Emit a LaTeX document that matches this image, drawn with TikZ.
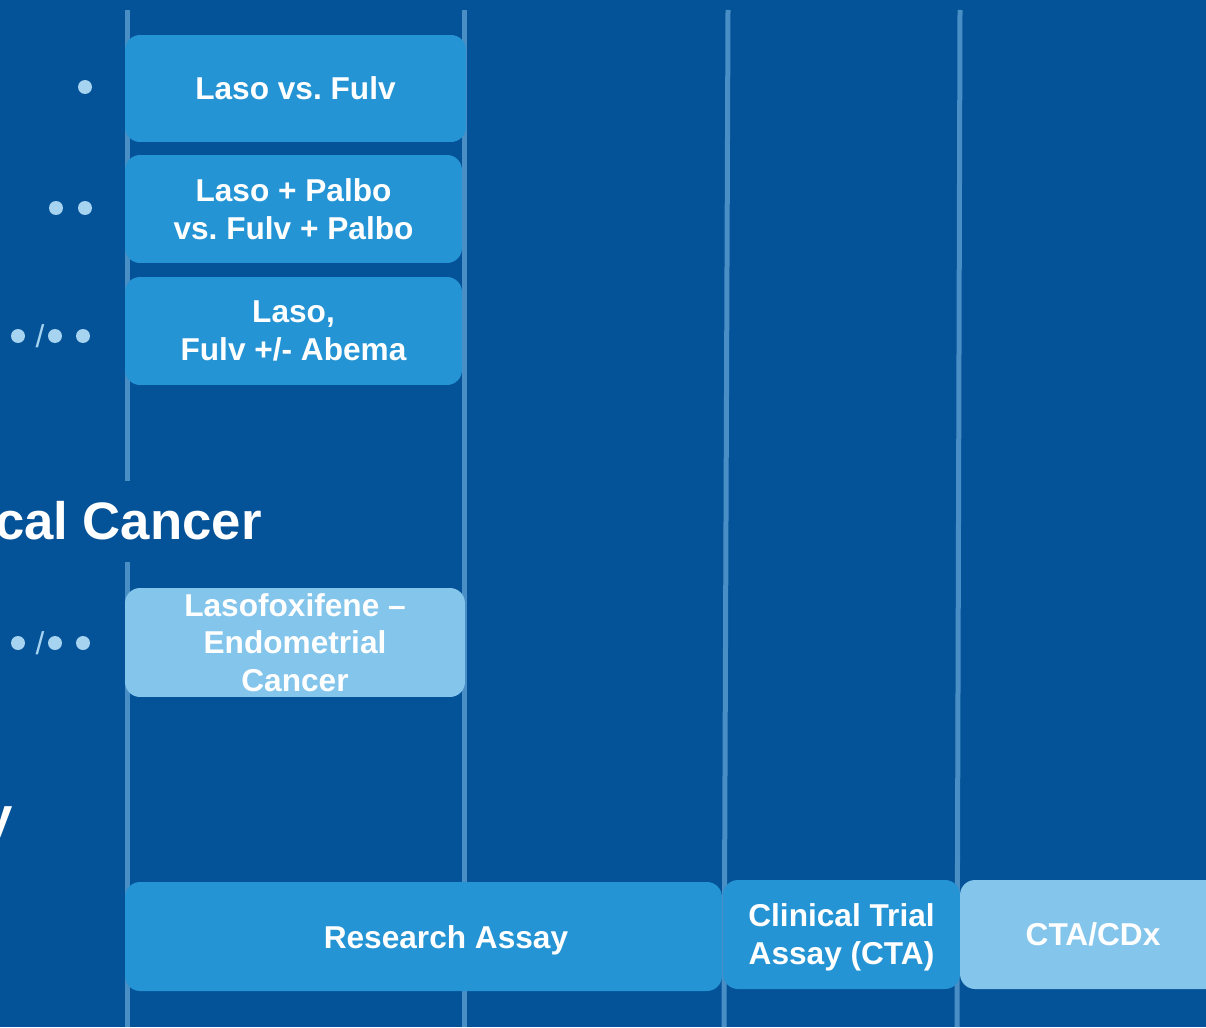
\documentclass[tikz,border=0pt]{standalone}
\usepackage{fontspec}
\setmainfont{Liberation Sans}
\frenchspacing
\definecolor{bgblue}{HTML}{045297}
\definecolor{boxblue}{HTML}{2494D4}
\definecolor{paleblue}{HTML}{84C5EB}
\definecolor{lineblue}{HTML}{4A8EC6}
\definecolor{dotblue}{HTML}{A6D3F0}

\begin{document}
\begin{tikzpicture}[x=0.02cm,y=-0.02cm]
    \tikzstyle{phase}=[draw=lineblue,line width=0.1cm]
    \tikzstyle{trial}=[rectangle,rounded corners=0.3cm,fill=boxblue,text=white,inner sep=0pt,
        text depth=0pt,align=center,font=\bfseries\fontsize{18}{21.6}\selectfont]
    \tikzstyle{light trial}=[trial, fill=paleblue];
    \tikzstyle{trial text}=[text=white,inner sep=0pt,text depth=0pt,align=center,font=\bfseries\fontsize{18}{21.6}\selectfont]
    \tikzstyle{dot}=[circle,fill=dotblue,minimum size=0.28cm,inner sep=0pt]
    \tikzstyle{slash}=[text=dotblue,inner sep=0pt,font=\fontsize{18}{18}\selectfont]
    \tikzstyle{heading}=[text=white,inner sep=0pt,font=\bfseries\fontsize{30}{36}\selectfont]

    % Background
    \fill[bgblue] (0,0) rectangle (1206,1027);
    \useasboundingbox (0,0) rectangle (1206,1027);

    % Draw the phase separators
    \draw[phase] (127,10) -- (127,481);
    \draw[phase] (127,562) -- (127,1027);
    \draw[phase] (464,10) -- (464,1027);
    \draw[phase] (728,10) -- (724,1027);
    \draw[phase] (960,10) -- (957,1027);

    % Draw the trial boxes
    \node[trial,minimum width=6.82cm,minimum height=2.14cm] (T-1) at (295.5,88.5) {Laso vs. Fulv};
    \node[trial,minimum width=6.74cm,minimum height=2.16cm] (T-2) at (293.5,209) {Laso + Palbo\\vs. Fulv + Palbo};
    \node[trial,minimum width=6.74cm,minimum height=2.16cm] (T-3) at (293.5,331) {Laso,\\Fulv +/- Abema};
    \node[light trial,minimum width=6.8cm,minimum height=2.18cm] (E-1) at (295,642.5) {Lasofoxifene --\\Endometrial\\Cancer};

    % Draw the assay boxes
    \node[trial,minimum width=11.94cm,minimum height=2.18cm] (A-1) at (423.5,936.5) {};
    \node[trial text] (A-1-text) at (446,937) {Research Assay};
    \node[trial,minimum width=4.74cm,minimum height=2.18cm] (A-2) at (841.5,934.5) {Clinical Trial\\Assay (CTA)};
    \node[light trial,minimum width=5.32cm,minimum height=2.18cm] (A-3) at (1093,934.5) {CTA/CDx};

    % Headings, cut at the left edge
    \node[heading,anchor=base east] (H-1) at (262,539) {cal Cancer};
    \node[heading,anchor=base east] (H-2) at (13,834) {y};

    % Dots for the lines of therapy
    \foreach \name / \x / \y in {1/85/87, 2a/56/208, 2b/85/208, 3a/18/336, 3b/55/336, 3c/83/336,
                                 4a/18/643, 4b/55/643, 4c/83/643}
        \node[dot] (D-\name) at (\x,\y) {};
    \foreach \name / \y in {3/336, 4/643}
        \node[slash] (S-\name) at (40,\y) {/};
\end{tikzpicture}
\end{document}
